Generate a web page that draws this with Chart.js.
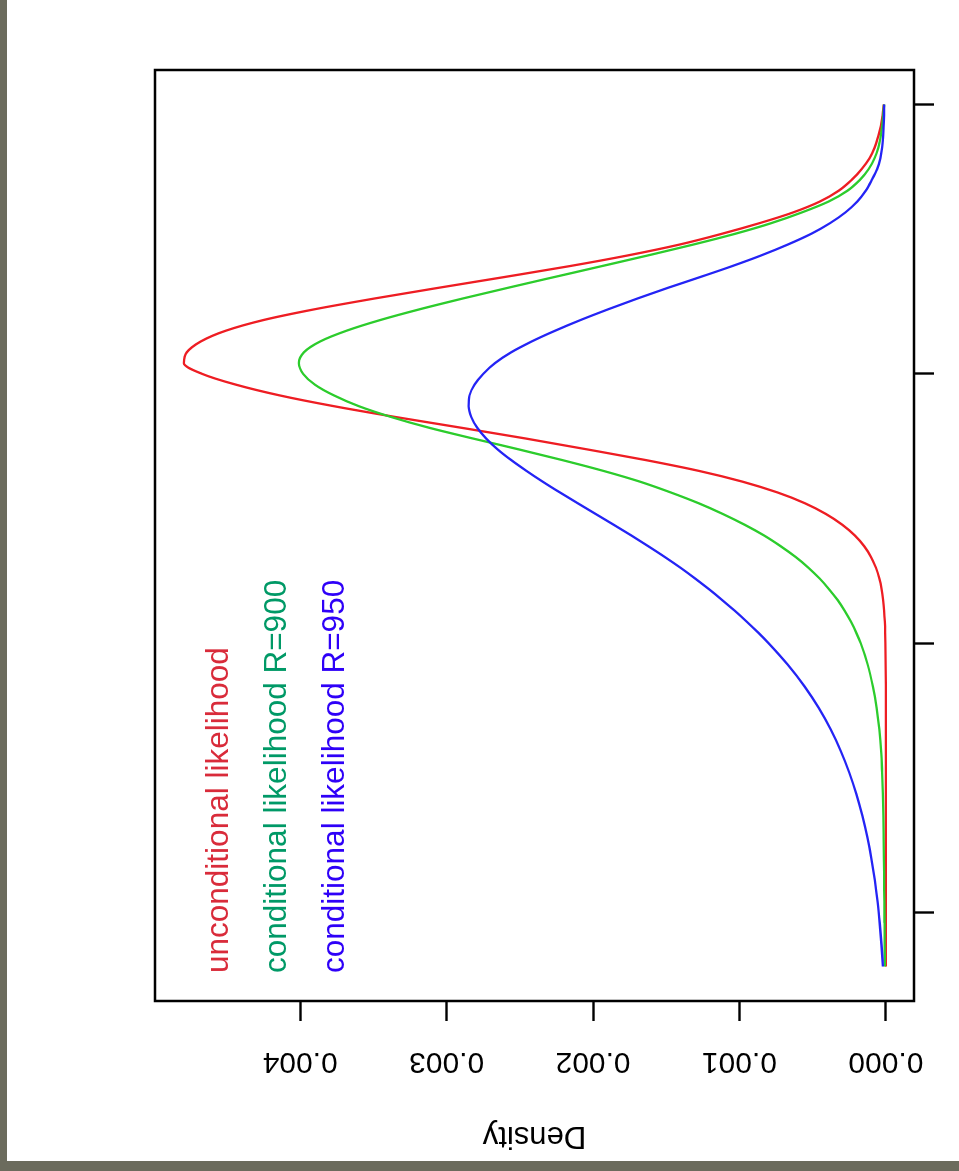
<!DOCTYPE html>
<html>
<head>
<meta charset="utf-8">
<script src="https://cdn.jsdelivr.net/npm/chart.js@4/dist/chart.umd.min.js"></script>
<style>
  html, body { margin: 0; padding: 0; width: 959px; height: 1171px; overflow: hidden; background: #6b6b5d; }
  #sheet { position: absolute; left: 7px; top: 0; width: 952px; height: 1161px; background: #ffffff; }
  /* the plot is laid out landscape and turned a quarter turn counter-clockwise */
  #turn { position: absolute; left: 0; top: 0; width: 1171px; height: 959px;
          transform-origin: 0 0; transform: translate(0, 1171px) rotate(-90deg); }
  canvas { display: block; }
</style>
</head>
<body>
<div id="sheet"></div>
<div id="turn"><canvas id="c" width="1171" height="959"></canvas></div>
<script>
// parameter values at which the densities are listed
const param = [200, 220, 240, 260, 280, 300, 320, 340, 360, 380, 400, 420, 440, 460, 480,
  500, 510, 520, 530, 540, 550, 560, 570, 580, 590, 600, 610, 620, 630, 640, 650,
  660, 670, 680, 690, 700, 710, 720, 730, 740, 750, 760, 770, 780, 790, 800,
  810, 820, 830, 840, 850, 860, 870, 880, 890, 900, 910, 920, 930, 940, 950,
  960, 970, 980, 990, 1000];

// unconditional likelihood
const densUncond = [0, 0, 0, 0, 0, 0, 0, 0, 0, 0, 0, 0, 0, 0.0000005, 0.0000013,
  0.0000031, 0.0000049, 0.0000076, 0.0000119, 0.0000187, 0.000029, 0.0000445, 0.0000678, 0.000101, 0.000148, 0.000212,
  0.000298, 0.00041, 0.000554, 0.000742, 0.00098,
  0.001278, 0.00164, 0.002044, 0.00246, 0.0029, 0.00335, 0.00377, 0.00414, 0.00444, 0.00467,
  0.004795, 0.004775, 0.00468, 0.00451, 0.00425, 0.0039, 0.00349, 0.00305, 0.0026, 0.00216,
  0.00176, 0.00141, 0.00112, 0.00086, 0.00063, 0.00045, 0.000322, 0.000234, 0.000165, 0.000112,
  0.000077, 0.000053, 0.000034, 0.000022, 0.000014];

// conditional likelihood, R = 900
const densR900 = [0.0000072, 0.0000082, 0.0000093, 0.0000105, 0.000012, 0.0000135, 0.0000155, 0.0000178,
  0.000021, 0.0000255, 0.0000321, 0.0000451, 0.0000634, 0.000089, 0.0001238,
  0.000172, 0.000203, 0.000239, 0.000281, 0.000329, 0.000387, 0.000452, 0.000528, 0.000616, 0.000718, 0.000832,
  0.000965, 0.001114, 0.00128, 0.00147, 0.00168,
  0.00193, 0.00221, 0.00251, 0.00282, 0.00312, 0.00338, 0.0036, 0.00377, 0.0039, 0.00398,
  0.00401, 0.003975, 0.003865, 0.003685, 0.003453, 0.003183, 0.002888, 0.002578, 0.00226, 0.00194,
  0.001623, 0.001315, 0.00103, 0.00078, 0.00057, 0.00039, 0.000262, 0.000178, 0.000118, 0.000078,
  0.000052, 0.000036, 0.000025, 0.000018, 0.000013];

// conditional likelihood, R = 950
const densR950 = [0.00002, 0.00003, 0.000042, 0.0000565, 0.000075, 0.0000985, 0.000127, 0.000161,
  0.0002015, 0.00025, 0.000308, 0.000377, 0.000459, 0.000556, 0.00067,
  0.000801, 0.000873, 0.00095, 0.001031, 0.001117, 0.001207, 0.001302, 0.001402, 0.001509, 0.001622, 0.001739,
  0.00186, 0.001983, 0.002106, 0.002227, 0.002344,
  0.002455, 0.002559, 0.002652, 0.00273, 0.002791, 0.002832, 0.00285, 0.002844, 0.00281, 0.00275,
  0.00267, 0.00256, 0.00242, 0.00226, 0.002085, 0.001895, 0.001695, 0.001485, 0.001265, 0.00105,
  0.00085, 0.00067, 0.00051, 0.00038, 0.000275, 0.000195, 0.000138, 0.000096, 0.00006, 0.000038,
  0.000026, 0.000019, 0.000015, 0.000013, 0.000012];

const paramTicks = [250, 500, 750, 1000];
const densityTicks = [0, 0.001, 0.002, 0.003, 0.004];

const seriesNames = ['unconditional likelihood', 'conditional likelihood R=900', 'conditional likelihood R=950'];
const lineColors = ['#ee1d23', '#2ccc2c', '#2424f5'];
const textColors = ['#d92b3a', '#009966', '#2e00f8'];

const FONT = '"Liberation Sans", Arial, Helvetica, sans-serif';

const pts = ys => param.map((x, i) => ({ x, y: ys[i] }));

// box around the plot region plus the coloured key text
const boxAndKey = {
  id: 'boxAndKey',
  afterDatasetsDraw(chart, args, opts) {
    const { ctx, chartArea: a, scales } = chart;
    ctx.save();
    ctx.strokeStyle = '#000';
    ctx.lineWidth = 2.5;
    ctx.strokeRect(a.left, a.top, a.right - a.left, a.bottom - a.top);
    ctx.font = opts.font;
    ctx.textAlign = 'left';
    ctx.textBaseline = 'alphabetic';
    const x = scales.x.getPixelForValue(opts.atX);
    opts.atY.forEach((yv, i) => {
      ctx.fillStyle = textColors[i];
      ctx.fillText(seriesNames[i], x, scales.y.getPixelForValue(yv));
    });
    ctx.restore();
  }
};

new Chart(document.getElementById('c'), {
  type: 'line',
  data: {
    datasets: [
      { label: seriesNames[0], data: pts(densUncond), borderColor: lineColors[0], order: 3 },
      { label: seriesNames[1], data: pts(densR900), borderColor: lineColors[1], order: 2 },
      { label: seriesNames[2], data: pts(densR950), borderColor: lineColors[2], order: 1 }
    ]
  },
  options: {
    responsive: false,
    animation: false,
    devicePixelRatio: 1,
    layout: { padding: { left: 0, top: 155, right: 70, bottom: 25 } },
    elements: {
      line: { borderWidth: 2.3, fill: false, cubicInterpolationMode: 'monotone' },
      point: { radius: 0 }
    },
    plugins: {
      legend: { display: false },
      tooltip: { enabled: false },
      boxAndKey: { font: '31.5px ' + FONT, atX: 194, atY: [0.00449, 0.00410, 0.00370] }
    },
    scales: {
      x: {
        type: 'linear', position: 'bottom', min: 168, max: 1032,
        afterBuildTicks: s => { s.ticks = paramTicks.map(v => ({ value: v })); },
        afterFit: s => { s.height = 20; },
        ticks: { display: false },
        grid: { drawOnChartArea: false, drawTicks: true, tickLength: 20, tickWidth: 2.4, tickColor: '#000' },
        border: { display: false }
      },
      y: {
        type: 'linear', position: 'left', min: -0.000192, max: 0.004992,
        afterBuildTicks: s => { s.ticks = densityTicks.map(v => ({ value: v })); },
        afterFit: s => { s.width = 170; },
        ticks: {
          callback: v => v.toFixed(3),
          font: { family: FONT, size: 30 },
          color: '#000',
          minRotation: 90, maxRotation: 90,
          crossAlign: 'center',
          padding: 3
        },
        grid: { drawOnChartArea: false, drawTicks: true, tickLength: 20, tickWidth: 2.4, tickColor: '#000' },
        border: { display: false },
        title: {
          display: true, text: 'Density', color: '#000',
          font: { family: FONT, size: 31 },
          padding: { top: 17, bottom: 0 }
        }
      }
    }
  },
  plugins: [boxAndKey]
});
</script>
</body>
</html>
